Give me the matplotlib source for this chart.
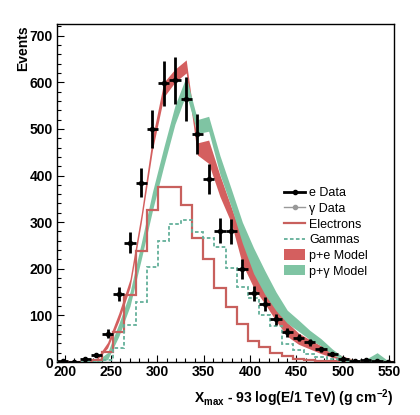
import matplotlib
matplotlib.use("Agg")
import matplotlib.pyplot as plt
import numpy as np
from matplotlib.lines import Line2D
from matplotlib.patches import Patch
from matplotlib.ticker import MultipleLocator

plt.rcParams['font.family'] = ['Liberation Sans', 'DejaVu Sans']
plt.rcParams['mathtext.fontset'] = 'custom'
plt.rcParams['mathtext.rm'] = 'Liberation Sans:bold'
plt.rcParams['mathtext.bf'] = 'Liberation Sans:bold'
plt.rcParams['mathtext.default'] = 'bf'

# bin edges of the Xmax histograms (g cm^-2)
edges = [191.5, 203.6, 215.8, 227.9, 240.0, 252.2, 264.3, 276.4, 288.5, 300.7,
         312.8, 324.9, 337.1, 349.2, 361.3, 373.5, 385.6, 397.7, 409.8, 422.0,
         434.1, 446.2, 458.4, 470.5, 482.6, 494.8, 506.9, 519.0, 531.1, 543.3, 555.4]

# electron data points
e_data = [2, 1, 6, 14, 61, 145, 256, 385, 499, 598, 604, 565, 489, 393, 282,
          280, 199, 147, 125, 92, 64, 52, 42, 27, 18, 7, 2, 4, 2, 1]
e_err = [2, 2, 3, 4, 9, 15, 23, 32, 41, 48, 50, 47, 42, 32, 27,
         27, 21, 16, 15, 12, 10, 8, 7, 5, 4, 3, 2, 2, 2, 1]

# simulated histograms
electrons = [0, 0, 1, 5, 21, 65, 143, 239, 325, 376, 376, 337, 267, 220, 158,
             118, 82, 44, 32, 19, 12, 6, 4, 2, 2, 1, 0, 0, 0, 0]
gammas = [0, 0, 0, 1, 4, 29, 79, 129, 203, 259, 297, 305, 279, 265, 247,
          202, 160, 138, 100, 77, 38, 25, 18, 10, 6, 3, 1, 0, 0, 0]

# model bands (lower / upper)
pe_lo = [0, 0, 0, 3, 30, 88, 160, 298, 455, 568, 600, 620, 444, 426, 355,
         299, 210, 160, 125, 88, 55, 38, 28, 18, 10, 4, 2, 0, 0, 0]
pe_hi = [0, 0, 1, 7, 42, 105, 178, 318, 482, 600, 628, 648, 470, 476, 401,
         333, 265, 205, 165, 130, 85, 62, 48, 35, 22, 12, 5, 3, 2, 1]
pg_lo = [0, 0, 0, 0, 5, 55, 120, 220, 325, 420, 510, 575, 490, 495, 403,
         333, 255, 190, 145, 110, 83, 66, 48, 35, 16, 4, 1, 1, 6, 0]
pg_hi = [0, 0, 0, 2, 20, 82, 150, 255, 365, 460, 550, 612, 520, 527, 443,
         372, 300, 245, 196, 150, 111, 90, 68, 50, 28, 10, 4, 6, 20, 2]

edges = np.array(edges)
centers = (edges[:-1] + edges[1:]) / 2
halfw = (edges[1:] - edges[:-1]) / 2

red = '#d45f5f'
red_line = '#c8605d'
green = '#7fc4a3'
green_line = '#63b09a'

fig = plt.figure(figsize=(4.2, 4.15), dpi=100)
ax = fig.add_axes([57/420, 1-362/415, 337/420, 338/415])

ax.fill_between(centers, pe_lo, pe_hi, color=red, lw=0, zorder=1)
ax.fill_between(centers, pg_lo, pg_hi, color=green, lw=0, zorder=2)
ax.stairs(electrons, edges, color=red_line, lw=1.6, zorder=3)
ax.stairs(gammas, edges, color=green_line, lw=1.3, ls=(0, (2, 1.3)), zorder=3)
ax.errorbar(centers, e_data, yerr=e_err, xerr=halfw, fmt='o', color='black',
            ms=3, elinewidth=2, capsize=0, zorder=5)

ax.set_xlim(edges[0], edges[-1])
ax.set_ylim(0, 725)
ax.xaxis.set_major_locator(MultipleLocator(50))
ax.xaxis.set_minor_locator(MultipleLocator(10))
ax.yaxis.set_major_locator(MultipleLocator(100))
ax.yaxis.set_minor_locator(MultipleLocator(20))
ax.tick_params(which='both', direction='in', top=False, right=False, width=0.8)
ax.tick_params(which='major', length=5, labelsize=10)
ax.tick_params(which='minor', length=3)
ax.tick_params(axis='y', pad=3)
ax.tick_params(axis='x', pad=2)
for lab in ax.get_xticklabels() + ax.get_yticklabels():
    lab.set_fontweight('bold')
for sp in ax.spines.values():
    sp.set_linewidth(1.0)

fig.text(23/420, 1-25/415, 'Events', rotation=90, ha='center', va='top',
         fontsize=10, fontweight='bold')
fig.text(393/420, 1-398/415, r'X$_{max}$ - 93 log(E/1 TeV) (g cm$^{-2}$)',
         ha='right', va='center', fontsize=10, fontweight='bold')

handles = [
    Line2D([], [], color='black', lw=2, marker='o', ms=3),
    Line2D([], [], color='#999999', lw=1, marker='o', ms=3),
    Line2D([], [], color=red_line, lw=1.6),
    Line2D([], [], color=green_line, lw=1.3, ls=(0, (2, 1.3))),
    Patch(color=red, lw=0),
    Patch(color=green, lw=0),
]
labels = ['e Data', '\u03b3 Data', 'Electrons', 'Gammas', 'p+e Model', 'p+\u03b3 Model']
fig.legend(handles, labels, loc='upper left', bbox_to_anchor=(284/420, 1-187/415),
           frameon=False, fontsize=9, handlelength=1.7, handleheight=0.9,
           handletextpad=0.3, labelspacing=0.25, borderpad=0, borderaxespad=0)

fig.savefig('out.png', dpi=100)
